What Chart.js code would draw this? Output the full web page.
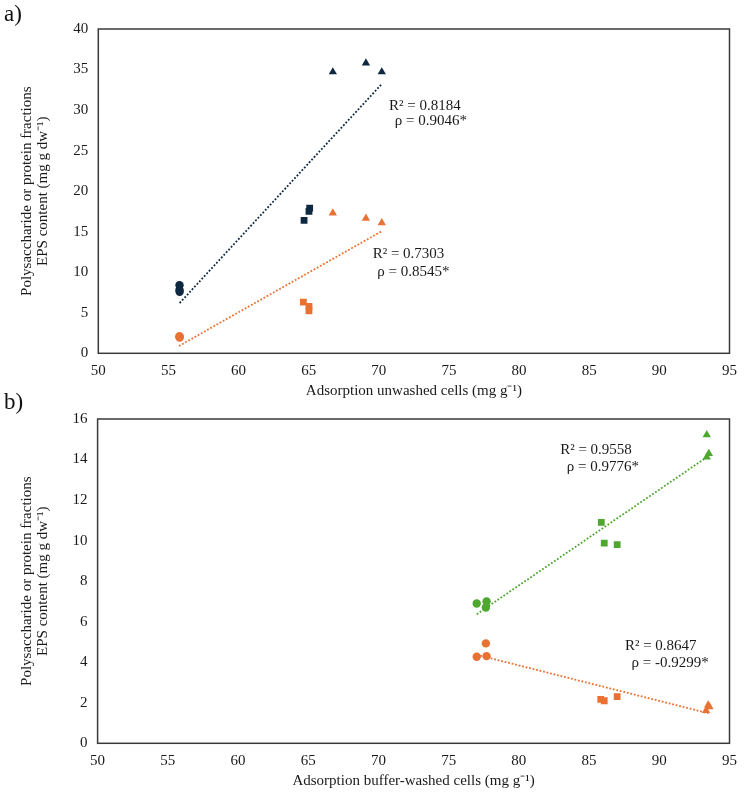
<!DOCTYPE html>
<html><head><meta charset="utf-8">
<script src="https://cdn.jsdelivr.net/npm/chart.js@4.4.1/dist/chart.umd.min.js"></script>
<style>
html,body{margin:0;padding:0;background:#fff;}
#wrap{position:relative;width:746px;height:792px;overflow:hidden;font-family:"Liberation Serif",serif;}
.panel{position:absolute;font-size:23px;color:#111;line-height:1;}
canvas{position:absolute;left:0;}
</style></head><body>
<div id="wrap">
<canvas id="ca" width="746" height="400" style="top:0"></canvas>
<canvas id="cb" width="746" height="392" style="top:400px"></canvas>
<div class="panel" style="top:2px;left:4px">a)</div>
<div class="panel" style="top:390px;left:4px">b)</div>
</div>
<script>
// ---- tick values ----
const X_TICKS = [50, 55, 60, 65, 70, 75, 80, 85, 90, 95];
const A_Y_TICKS = [0, 5, 10, 15, 20, 25, 30, 35, 40];
const B_Y_TICKS = [0, 2, 4, 6, 8, 10, 12, 14, 16];

// ---- panel a (unwashed cells) ----
const A_NAVY_CIRCLE_X = [55.79, 55.79, 55.80];
const A_NAVY_CIRCLE_Y = [8.4, 7.8, 7.6];
const A_NAVY_SQUARE_X = [64.67, 65.02, 65.07];
const A_NAVY_SQUARE_Y = [16.4, 17.5, 17.9];
const A_NAVY_TRIANGLE_X = [66.72, 69.08, 70.21];
const A_NAVY_TRIANGLE_Y = [34.7, 35.8, 34.7];
const A_ORANGE_CIRCLE_X = [55.79, 55.79, 55.80];
const A_ORANGE_CIRCLE_Y = [2.0, 2.1, 1.95];
const A_ORANGE_SQUARE_X = [64.62, 65.02, 65.02];
const A_ORANGE_SQUARE_Y = [6.3, 5.8, 5.25];
const A_ORANGE_TRIANGLE_X = [66.72, 69.08, 70.21];
const A_ORANGE_TRIANGLE_Y = [17.3, 16.65, 16.1];
const A_NAVY_TREND_X = [55.8, 70.2];
const A_NAVY_TREND_Y = [6.2, 33.2];
const A_ORANGE_TREND_X = [55.75, 70.2];
const A_ORANGE_TREND_Y = [0.9, 15.05];
const A_LABELS = ['R² = 0.8184', 'ρ = 0.9046*', 'R² = 0.7303', 'ρ = 0.8545*'];

// ---- panel b (buffer-washed cells) ----
const B_GREEN_CIRCLE_X = [77.0, 77.7, 77.65];
const B_GREEN_CIRCLE_Y = [6.9, 7.0, 6.7];
const B_GREEN_SQUARE_X = [85.87, 86.08, 87.0];
const B_GREEN_SQUARE_Y = [10.9, 9.88, 9.8];
const B_GREEN_TRIANGLE_X = [93.38, 93.53, 93.38];
const B_GREEN_TRIANGLE_Y = [15.22, 14.29, 14.12];
const B_ORANGE_CIRCLE_X = [77.65, 77.0, 77.7];
const B_ORANGE_CIRCLE_Y = [4.93, 4.27, 4.30];
const B_ORANGE_SQUARE_X = [85.83, 86.08, 87.0];
const B_ORANGE_SQUARE_Y = [2.17, 2.10, 2.30];
const B_ORANGE_TRIANGLE_X = [93.48, 93.33, 93.57];
const B_ORANGE_TRIANGLE_Y = [1.89, 1.61, 1.80];
const B_GREEN_TREND_X = [77.0, 93.5];
const B_GREEN_TREND_Y = [6.37, 14.17];
const B_ORANGE_TREND_X = [77.0, 93.5];
const B_ORANGE_TREND_Y = [4.37, 1.48];
const B_LABELS = ['R² = 0.9558', 'ρ = 0.9776*', 'R² = 0.8647', 'ρ = -0.9299*'];

const X_TITLE_A = 'Adsorption unwashed cells (mg g⁻¹)';
const X_TITLE_B = 'Adsorption buffer-washed cells (mg g⁻¹)';
const Y_TITLE = ['Polysaccharide or protein fractions', 'EPS content (mg g dw⁻¹)'];

// ---- styling ----
const NAVY = '#0E2841', ORANGE = '#E97132', GREEN = '#4EA72E';
const FONT = '"Liberation Serif", "Times New Roman", serif';
const TEXT = '#1a1a1a';

const pts = (xs, ys) => xs.map((x, i) => ({x: x, y: ys[i]}));
function markers(xs, ys, color, style) {
  const r = style === 'circle' ? 4.2 : (style === 'rect' ? 4.8 : 4.8);
  return {data: pts(xs, ys), pointStyle: style, pointRadius: r, pointHoverRadius: r,
    backgroundColor: color, borderColor: color, borderWidth: 0, showLine: false, order: 0};
}
function trend(xs, ys, color) {
  return {data: pts(xs, ys), showLine: true, borderColor: color, borderWidth: 1.8,
    borderDash: [1.8, 1.8], pointRadius: 0, pointHoverRadius: 0, fill: false, order: 5};
}

const framePlugin = {
  id: 'frame',
  beforeDatasetsDraw(chart) {
    const a = chart.chartArea, ctx = chart.ctx;
    ctx.save();
    ctx.strokeStyle = '#3a3a3a';
    ctx.lineWidth = 1.5;
    ctx.strokeRect(a.left, a.top, a.right - a.left, a.bottom - a.top);
    ctx.restore();
  }
};
const labelPlugin = {
  id: 'rlabels',
  afterDatasetsDraw(chart, args, opts) {
    const ctx = chart.ctx, xs = chart.scales.x, ys = chart.scales.y;
    ctx.save();
    ctx.font = '15px ' + FONT;
    ctx.fillStyle = TEXT;
    ctx.textAlign = 'left';
    ctx.textBaseline = 'middle';
    opts.items.forEach(it => {
      ctx.fillText(it.text, xs.getPixelForValue(it.x), ys.getPixelForValue(it.y));
    });
    ctx.restore();
  }
};

function makeChart(id, datasets, yTicks, xTitle, geo, labels) {
  return new Chart(document.getElementById(id), {
    type: 'scatter',
    data: {datasets: datasets},
    plugins: [framePlugin, labelPlugin],
    options: {
      responsive: false, animation: false, devicePixelRatio: 1,
      layout: {padding: {top: geo.top, right: geo.right, left: 0, bottom: 0}},
      plugins: {legend: {display: false}, tooltip: {enabled: false}, rlabels: {items: labels}},
      scales: {
        x: {
          type: 'linear', min: X_TICKS[0], max: X_TICKS[X_TICKS.length - 1],
          afterBuildTicks: ax => { ax.ticks = X_TICKS.map(v => ({value: v})); },
          afterFit: s => { s.height = geo.xh; },
          grid: {display: false, drawTicks: false},
          border: {display: false},
          ticks: {padding: 9, color: TEXT, font: {family: FONT, size: 15}, maxRotation: 0, autoSkip: false},
          title: {display: true, text: xTitle, color: TEXT, font: {family: FONT, size: 15, lineHeight: 1.2},
            padding: {top: 0, bottom: geo.xtp}}
        },
        y: {
          type: 'linear', min: yTicks[0], max: yTicks[yTicks.length - 1],
          afterBuildTicks: ax => { ax.ticks = yTicks.map(v => ({value: v})); },
          afterFit: s => { s.width = geo.yw; },
          grid: {display: false, drawTicks: false},
          border: {display: false},
          ticks: {padding: 10, color: TEXT, font: {family: FONT, size: 15}, autoSkip: false},
          title: {display: true, text: Y_TITLE, color: TEXT, font: {family: FONT, size: 15, lineHeight: 1.1},
            padding: {top: 18.5, bottom: 0}}
        }
      }
    }
  });
}

makeChart('ca', [
  trend(A_NAVY_TREND_X, A_NAVY_TREND_Y, NAVY),
  trend(A_ORANGE_TREND_X, A_ORANGE_TREND_Y, ORANGE),
  markers(A_NAVY_CIRCLE_X, A_NAVY_CIRCLE_Y, NAVY, 'circle'),
  markers(A_NAVY_SQUARE_X, A_NAVY_SQUARE_Y, NAVY, 'rect'),
  markers(A_NAVY_TRIANGLE_X, A_NAVY_TRIANGLE_Y, NAVY, 'triangle'),
  markers(A_ORANGE_CIRCLE_X, A_ORANGE_CIRCLE_Y, ORANGE, 'circle'),
  markers(A_ORANGE_SQUARE_X, A_ORANGE_SQUARE_Y, ORANGE, 'rect'),
  markers(A_ORANGE_TRIANGLE_X, A_ORANGE_TRIANGLE_Y, ORANGE, 'triangle')
], A_Y_TICKS, X_TITLE_A, {top: 29, right: 8.7, xh: 46.7, yw: 98.3, xtp: 0}, [
  {text: A_LABELS[0], x: 70.73, y: 30.5},
  {text: A_LABELS[1], x: 71.13, y: 28.6},
  {text: A_LABELS[2], x: 69.56, y: 12.25},
  {text: A_LABELS[3], x: 69.89, y: 10.06}
]);

makeChart('cb', [
  trend(B_GREEN_TREND_X, B_GREEN_TREND_Y, GREEN),
  trend(B_ORANGE_TREND_X, B_ORANGE_TREND_Y, ORANGE),
  markers(B_GREEN_CIRCLE_X, B_GREEN_CIRCLE_Y, GREEN, 'circle'),
  markers(B_GREEN_SQUARE_X, B_GREEN_SQUARE_Y, GREEN, 'rect'),
  markers(B_GREEN_TRIANGLE_X, B_GREEN_TRIANGLE_Y, GREEN, 'triangle'),
  markers(B_ORANGE_CIRCLE_X, B_ORANGE_CIRCLE_Y, ORANGE, 'circle'),
  markers(B_ORANGE_SQUARE_X, B_ORANGE_SQUARE_Y, ORANGE, 'rect'),
  markers(B_ORANGE_TRIANGLE_X, B_ORANGE_TRIANGLE_Y, ORANGE, 'triangle')
], B_Y_TICKS, X_TITLE_B, {top: 18, right: 14.3, xh: 48.7, yw: 97.6, xtp: 2}, [
  {text: B_LABELS[0], x: 82.94, y: 14.48},
  {text: B_LABELS[1], x: 83.41, y: 13.63},
  {text: B_LABELS[2], x: 87.55, y: 4.79},
  {text: B_LABELS[3], x: 88.02, y: 3.94}
]);
</script>
</body></html>
